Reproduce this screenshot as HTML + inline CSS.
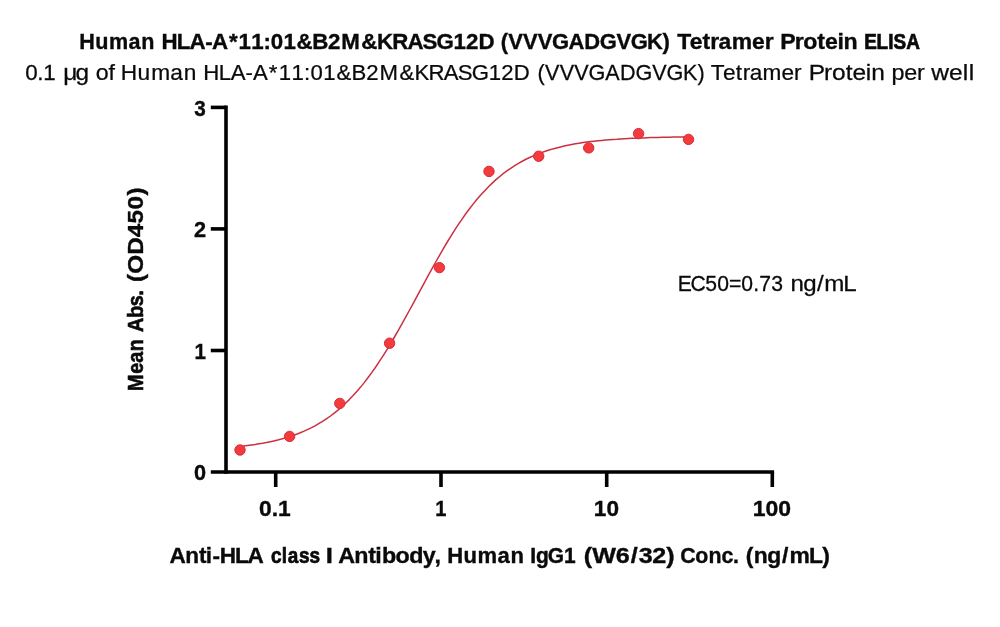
<!DOCTYPE html>
<html lang="en">
<head>
<meta charset="utf-8">
<title>Human HLA-A*11:01&amp;B2M&amp;KRASG12D Tetramer Protein ELISA</title>
<style>
html,body{margin:0;padding:0;background:#fff;}
body{width:1000px;height:627px;overflow:hidden;}
svg{display:block;}
text{font-family:"Liberation Sans",sans-serif;fill:#0a0a0a;white-space:pre;}
.b{font-weight:bold;stroke:#0a0a0a;}
.r{stroke:#0a0a0a;}
</style>
</head>
<body>
<svg width="1000" height="627" viewBox="0 0 1000 627">
<rect width="1000" height="627" fill="#ffffff"/>
<g stroke="#000" stroke-width="3.6" fill="none" stroke-linecap="butt">
<path d="M226,105.6 V473.8"/>
<path d="M210.8,472 H774.1"/>
<path d="M210.8,107.4 H226"/>
<path d="M210.8,228.9 H226"/>
<path d="M210.8,350.5 H226"/>
<path d="M275.7,472 V487"/>
<path d="M441,472 V487"/>
<path d="M606.7,472 V487"/>
<path d="M772.3,472 V487"/>
</g>
<g font-size="21.4" class="b">
<text transform="scale(1.0088,1)" x="78.61 94.36 108.04 127.34 139.92" y="49" stroke-width="0.35">Human</text>
<text transform="scale(1.0433,1)" x="154.80 169.47 181.58 196.70 203.28 219.39 228.70 240.73 252.58 259.64 271.65 284.15 299.39 314.40 327.16 346.31 361.40 375.87 390.60 405.07 418.31 434.67 446.74 458.69" y="49" stroke-width="0.35">HLA-A*11:01&amp;B2M&amp;KRASG12D</text>
<text transform="scale(1.0259,1)" x="488.01 495.44 509.83 524.22 538.05 554.25 569.57 584.66 600.98 614.82 630.60 645.80" y="49" stroke-width="0.35">(VVVGADGVGK)</text>
<text transform="scale(1.0692,1)" x="633.38 645.02 657.04 664.39 672.12 684.32 703.32 715.17" y="49" stroke-width="0.35">Tetramer</text>
<text transform="scale(1.0810,1)" x="721.75 735.29 743.19 756.12 763.13 774.74 780.36" y="49" stroke-width="0.35">Protein</text>
<text transform="scale(0.8843,1)" x="977.32 991.28 1004.46 1010.55 1024.92" y="49" stroke-width="0.70">ELISA</text>
</g>
<g font-size="21.4" class="r">
<text transform="scale(1.0459,1)" x="24.26 35.65 41.25" y="80" stroke-width="0.25">0.1</text>
<text transform="scale(1.1408,1)" x="55.54 66.18" y="80" stroke-width="0.25">μg</text>
<text transform="scale(1.0858,1)" x="88.21 99.94" y="80" stroke-width="0.25">of</text>
<text transform="scale(1.0609,1)" x="113.71 129.57 142.47 160.54 173.29" y="80" stroke-width="0.25">Human</text>
<text transform="scale(1.0365,1)" x="196.03 211.12 222.59 236.89 244.13 259.37 268.95 281.15 293.24 299.55 311.85 324.54 339.10 353.31 366.13 385.49 399.84 413.44 428.21 441.69 455.04 471.61 483.72 495.70" y="80" stroke-width="0.25">HLA-A*11:01&amp;B2M&amp;KRASG12D</text>
<text transform="scale(1.0098,1)" x="532.21 539.74 554.22 568.70 582.81 599.45 614.00 629.42 645.92 660.04 676.27 690.65" y="80" stroke-width="0.25">(VVVGADGVGK)</text>
<text transform="scale(1.0572,1)" x="672.31 683.79 695.89 702.53 709.08 721.32 739.17 751.16" y="80" stroke-width="0.25">Tetramer</text>
<text transform="scale(1.1450,1)" x="706.32 719.77 726.70 738.69 744.61 756.18 760.88" y="80" stroke-width="0.25">Protein</text>
<text transform="scale(1.0897,1)" x="818.10 829.75 841.61" y="80" stroke-width="0.25">per</text>
<text transform="scale(1.1484,1)" x="810.93 826.47 838.42 843.50" y="80" stroke-width="0.25">well</text>
</g>
<g font-size="21.4" class="b">
<text transform="scale(1.0545,1)" x="160.68 175.67 188.61 195.18 201.52 208.41 222.86 234.76" y="562.8" stroke-width="0.35">Anti-HLA</text>
<text transform="scale(0.8858,1)" x="305.94 318.21 324.81 337.59 349.37" y="562.8" stroke-width="0.69">class</text>
<text transform="scale(1.2000,1)" x="271.51" y="562.8" stroke-width="0.35">I</text>
<text transform="scale(1.0879,1)" x="310.85 325.65 338.44 344.92 351.05 363.60 376.15 388.67 399.49" y="562.8" stroke-width="0.35">Antibody,</text>
<text transform="scale(1.0297,1)" x="434.37 450.12 463.80 483.10 495.68" y="562.8" stroke-width="0.35">Human</text>
<text transform="scale(0.9793,1)" x="541.54 547.32 559.44 575.82" y="562.8" stroke-width="0.41">IgG1</text>
<text transform="scale(1.1737,1)" x="497.37 504.70 524.73 537.32 544.19 555.70 567.57" y="562.8" stroke-width="0.35">(W6/32)</text>
<text transform="scale(0.9988,1)" x="681.19 696.18 709.47 722.27 733.91" y="562.8" stroke-width="0.35">Conc.</text>
<text transform="scale(1.0694,1)" x="697.48 704.77 717.42 731.16 738.24 756.46 768.94" y="562.8" stroke-width="0.35">(ng/mL)</text>
</g>
<g font-size="21.4" class="r">
<text transform="scale(0.9876,1)" x="686.20 699.16 714.01 726.21 738.13 750.64 762.67 768.87 780.98" y="291" stroke-width="0.29">EC50=0.73</text>
<text transform="scale(1.1274,1)" x="701.10 712.50 724.64 731.08 747.92" y="291" stroke-width="0.25">ng/mL</text>
</g>
<g font-size="21.4" class="b">
<text transform="translate(142.6,390) rotate(-90) scale(0.9230,1)" x="-1.21 17.69 29.60 41.99" y="0" stroke-width="0.58">Mean</text>
<text transform="translate(142.6,390) rotate(-90) scale(0.9236,1)" x="62.70 78.11 90.59 102.07" y="0" stroke-width="0.58">Abs.</text>
<text transform="translate(142.6,390) rotate(-90) scale(1.1385,1)" x="94.94 102.18 118.81 134.17 146.25 158.54 170.84" y="0" stroke-width="0.35">(OD450)</text>
</g>
<g font-size="21.4" class="b">
<text x="194.32" y="115.6" textLength="11.52" lengthAdjust="spacingAndGlyphs" stroke-width="0.35">3</text>
</g>
<g font-size="21.4" class="b">
<text x="194.04" y="237.1" textLength="12.08" lengthAdjust="spacingAndGlyphs" stroke-width="0.35">2</text>
</g>
<g font-size="21.4" class="b">
<text x="194.40" y="358.7" textLength="11.43" lengthAdjust="spacingAndGlyphs" stroke-width="0.35">1</text>
</g>
<g font-size="21.4" class="b">
<text x="194.04" y="480.2" textLength="12.08" lengthAdjust="spacingAndGlyphs" stroke-width="0.35">0</text>
</g>
<g font-size="21.4" class="b">
<text x="259.00" y="515.8" textLength="31.73" lengthAdjust="spacingAndGlyphs" stroke-width="0.35">0.1</text>
<text x="435.22" y="515.8" textLength="11.19" lengthAdjust="spacingAndGlyphs" stroke-width="0.35">1</text>
<text x="593.88" y="515.8" textLength="25.16" lengthAdjust="spacingAndGlyphs" stroke-width="0.35">10</text>
<text x="752.66" y="515.8" textLength="38.37" lengthAdjust="spacingAndGlyphs" stroke-width="0.35">100</text>
</g>
<path d="M240.0,446.3 L243.8,445.9 L247.5,445.4 L251.3,444.9 L255.1,444.4 L258.8,443.8 L262.6,443.2 L266.4,442.5 L270.2,441.7 L273.9,440.9 L277.7,440.0 L281.5,439.0 L285.2,437.9 L289.0,436.8 L292.8,435.5 L296.5,434.2 L300.3,432.7 L304.1,431.1 L307.8,429.4 L311.6,427.6 L315.4,425.6 L319.1,423.4 L322.9,421.1 L326.7,418.6 L330.5,416.0 L334.2,413.1 L338.0,410.1 L341.8,406.8 L345.5,403.3 L349.3,399.6 L353.1,395.6 L356.8,391.5 L360.6,387.1 L364.4,382.4 L368.1,377.5 L371.9,372.4 L375.7,367.0 L379.4,361.4 L383.2,355.6 L387.0,349.6 L390.8,343.4 L394.5,337.0 L398.3,330.4 L402.1,323.7 L405.8,316.9 L409.6,310.0 L413.4,303.1 L417.1,296.1 L420.9,289.1 L424.7,282.1 L428.4,275.1 L432.2,268.3 L436.0,261.5 L439.8,254.9 L443.5,248.3 L447.3,242.0 L451.1,235.8 L454.8,229.9 L458.6,224.1 L462.4,218.6 L466.1,213.3 L469.9,208.2 L473.7,203.4 L477.4,198.8 L481.2,194.5 L485.0,190.4 L488.7,186.5 L492.5,182.9 L496.3,179.4 L500.1,176.2 L503.8,173.2 L507.6,170.4 L511.4,167.8 L515.1,165.4 L518.9,163.1 L522.7,161.0 L526.4,159.0 L530.2,157.2 L534.0,155.6 L537.7,154.0 L541.5,152.6 L545.3,151.3 L549.1,150.0 L552.8,148.9 L556.6,147.9 L560.4,146.9 L564.1,146.1 L567.9,145.3 L571.7,144.5 L575.4,143.8 L579.2,143.2 L583.0,142.6 L586.7,142.1 L590.5,141.6 L594.3,141.2 L598.0,140.8 L601.8,140.4 L605.6,140.0 L609.4,139.7 L613.1,139.4 L616.9,139.2 L620.7,138.9 L624.4,138.7 L628.2,138.5 L632.0,138.3 L635.7,138.2 L639.5,138.0 L643.3,137.9 L647.0,137.7 L650.8,137.6 L654.6,137.5 L658.3,137.4 L662.1,137.3 L665.9,137.2 L669.7,137.2 L673.4,137.1 L677.2,137.0 L681.0,137.0 L684.7,136.9 L688.5,136.9" fill="none" stroke="#cc3040" stroke-width="1.5" stroke-linejoin="round"/>
<g fill="#f43a3a" stroke="#d42c3e" stroke-width="1">
<circle cx="240" cy="450" r="5.2"/>
<circle cx="289.6" cy="436.4" r="5.2"/>
<circle cx="339.8" cy="403.4" r="5.2"/>
<circle cx="389.6" cy="343.2" r="5.2"/>
<circle cx="439.4" cy="267.6" r="5.2"/>
<circle cx="489" cy="171.4" r="5.2"/>
<circle cx="538.7" cy="156.2" r="5.2"/>
<circle cx="588.7" cy="147.9" r="5.2"/>
<circle cx="638.6" cy="133.6" r="5.2"/>
<circle cx="688.5" cy="139.4" r="5.2"/>
</g>
</svg>
</body>
</html>
